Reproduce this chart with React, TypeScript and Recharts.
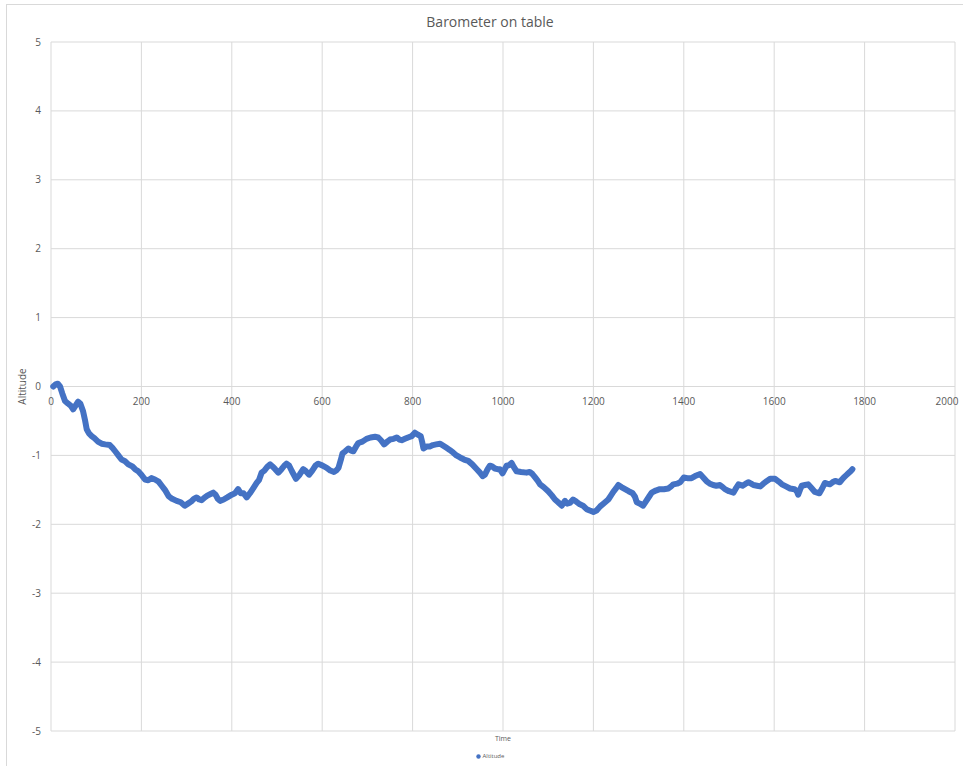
import { LineChart, Line, XAxis, YAxis, CartesianGrid, Legend } from "recharts";

// sample time (s) and barometric altitude readings
const times = [
  5, 10, 15, 20, 25, 31, 38, 44, 49, 54, 60, 65, 71, 75, 79, 84, 90, 96, 104, 112,
  120, 130, 136, 142, 149, 156, 163, 171, 180, 186, 193, 200, 208, 215, 222, 230, 238, 245, 252, 260,
  268, 278, 287, 296, 303, 310, 316, 322, 328, 333, 340, 347, 353, 359, 364, 369, 374, 382, 390, 400,
  407, 414, 420, 426, 433, 440, 448, 455, 460, 466, 472, 478, 485, 490, 496, 503, 510, 516, 521, 527,
  533, 542, 550, 558, 564, 571, 578, 585, 591, 598, 604, 610, 618, 626, 631, 636, 641, 645, 651, 658,
  664, 669, 675, 680, 689, 698, 707, 717, 724, 730, 737, 744, 750, 758, 765, 771, 776, 783, 790, 798,
  805, 812, 818, 821, 824, 831, 838, 845, 852, 861, 868, 875, 882, 890, 897, 905, 914, 923, 932, 942,
  949, 955, 960, 966, 971, 976, 982, 988, 993, 999, 1004, 1008, 1014, 1019, 1024, 1030, 1040, 1052, 1059, 1065,
  1071, 1077, 1082, 1090, 1100, 1108, 1115, 1122, 1130, 1137, 1142, 1148, 1155, 1162, 1170, 1177, 1185, 1192, 1200, 1207,
  1215, 1224, 1233, 1239, 1244, 1250, 1255, 1262, 1270, 1278, 1287, 1292, 1296, 1303, 1310, 1317, 1323, 1329, 1338, 1347,
  1356, 1366, 1372, 1377, 1385, 1392, 1400, 1408, 1417, 1425, 1432, 1436, 1443, 1451, 1458, 1465, 1472, 1480, 1486, 1491,
  1500, 1510, 1516, 1521, 1530, 1537, 1543, 1549, 1554, 1562, 1569, 1576, 1584, 1591, 1602, 1610, 1617, 1626, 1635, 1645,
  1650, 1653, 1657, 1661, 1668, 1675, 1682, 1690, 1700, 1706, 1712, 1717, 1723, 1729, 1735, 1740, 1745, 1750, 1754, 1759,
  1764, 1769, 1773,
];

const altitude = [
  0.0, 0.03, 0.04, 0.0, -0.1, -0.21, -0.25, -0.28, -0.33, -0.28, -0.22, -0.25, -0.36, -0.48, -0.62, -0.68, -0.72, -0.75, -0.8, -0.83,
  -0.84, -0.85, -0.89, -0.94, -1.0, -1.06, -1.08, -1.13, -1.16, -1.2, -1.23, -1.28, -1.35, -1.36, -1.33, -1.35, -1.38, -1.44, -1.5, -1.59,
  -1.63, -1.66, -1.68, -1.73, -1.7, -1.67, -1.63, -1.61, -1.64, -1.65, -1.61, -1.58, -1.56, -1.54, -1.57, -1.63, -1.66, -1.64, -1.61, -1.57,
  -1.55, -1.49, -1.55, -1.55, -1.61, -1.55, -1.47, -1.4, -1.36, -1.25, -1.22, -1.17, -1.13, -1.16, -1.2, -1.25, -1.2, -1.15, -1.12, -1.15,
  -1.23, -1.34, -1.28, -1.2, -1.23, -1.28, -1.22, -1.15, -1.12, -1.14, -1.16, -1.18, -1.22, -1.24, -1.22, -1.18, -1.07, -0.97, -0.94, -0.9,
  -0.93, -0.94, -0.87, -0.82, -0.8, -0.76, -0.74, -0.73, -0.74, -0.78, -0.84, -0.8, -0.77, -0.76, -0.74, -0.77, -0.78, -0.76, -0.74, -0.72,
  -0.67, -0.7, -0.72, -0.8, -0.9, -0.87, -0.87, -0.85, -0.84, -0.83, -0.86, -0.89, -0.92, -0.96, -1.0, -1.03, -1.06, -1.08, -1.13, -1.2,
  -1.25, -1.3, -1.28, -1.2, -1.15, -1.16, -1.19, -1.2, -1.2, -1.26, -1.2, -1.15, -1.14, -1.11, -1.17, -1.23, -1.24, -1.25, -1.24, -1.27,
  -1.32, -1.37, -1.42, -1.46, -1.52, -1.58, -1.64, -1.68, -1.73, -1.66, -1.7, -1.69, -1.64, -1.67, -1.71, -1.73, -1.78, -1.8, -1.82, -1.8,
  -1.74, -1.69, -1.64, -1.58, -1.53, -1.48, -1.43, -1.46, -1.49, -1.52, -1.55, -1.6, -1.68, -1.7, -1.73, -1.66, -1.6, -1.54, -1.51, -1.49,
  -1.49, -1.48, -1.45, -1.42, -1.41, -1.39, -1.32, -1.33, -1.33, -1.3, -1.28, -1.27, -1.32, -1.38, -1.41, -1.43, -1.44, -1.43, -1.46, -1.49,
  -1.52, -1.54, -1.47, -1.42, -1.44, -1.41, -1.39, -1.41, -1.43, -1.44, -1.45, -1.41, -1.37, -1.34, -1.34, -1.38, -1.42, -1.45, -1.48, -1.49,
  -1.52, -1.57, -1.5, -1.44, -1.43, -1.42, -1.47, -1.53, -1.55, -1.48, -1.4, -1.41, -1.42, -1.39, -1.37, -1.38, -1.39, -1.35, -1.32, -1.29,
  -1.26, -1.23, -1.2,
];

const xTicks = [0, 200, 400, 600, 800, 1000, 1200, 1400, 1600, 1800, 2000];
const yTicks = [-5, -4, -3, -2, -1, 0, 1, 2, 3, 4, 5];

const data = times.map((t, i) => ({ time: t, altitude: altitude[i] }));

const W = 963;
const H = 766;
const PLOT_TOP = 42;
const PLOT_BOTTOM = 731;
const AXIS_H = 14;
const TEXT = "#595959";
const GRID = "#d9d9d9";
const BLUE = "#4472C4";
const FONT = "'Open Sans', sans-serif";

// Category labels sit on the zero line, not along the bottom edge
function ZeroLineTick({ x, y, payload }: any) {
  const shift = (PLOT_BOTTOM - PLOT_TOP) / 2;
  return (
    <text x={x} y={y - shift + 18} textAnchor="middle" fontSize={10} fill={TEXT} fontFamily={FONT}>
      {payload.value}
    </text>
  );
}

function LegendItem() {
  return (
    <div style={{ display: "flex", justifyContent: "center", alignItems: "center", gap: 2, fontSize: 6, color: TEXT, fontFamily: FONT }}>
      <svg width={5} height={5}>
        <circle cx={2.5} cy={2.5} r={2.2} fill={BLUE} />
      </svg>
      <span>Altitude</span>
    </div>
  );
}

export default function App() {
  return (
    <div style={{ position: "absolute", left: 0, top: 0, width: W, height: H, overflow: "hidden", background: "#fff", fontFamily: FONT }}>
      <div style={{ position: "absolute", left: 6, top: 4, width: 990, height: 800, border: `1px solid ${GRID}` }} />
      <div style={{ position: "absolute", left: 0, top: 12, width: 980, textAlign: "center", fontSize: 14, lineHeight: "20px", color: TEXT }}>
        Barometer on table
      </div>
      <div style={{ position: "absolute", left: 0, top: 0 }}>
        <LineChart
          width={W}
          height={H}
          data={data}
          margin={{ top: PLOT_TOP, right: 8, bottom: H - PLOT_BOTTOM - AXIS_H, left: 0 }}
        >
          <CartesianGrid stroke={GRID} strokeWidth={1} />
          <XAxis
            dataKey="time"
            type="number"
            domain={[0, 2000]}
            ticks={xTicks}
            height={AXIS_H}
            axisLine={false}
            tickLine={false}
            tickSize={0}
            tickMargin={0}
            tick={<ZeroLineTick />}
            label={{ value: "Time", position: "insideBottom", offset: 4, fontSize: 7, fill: TEXT, fontFamily: FONT }}
          />
          <YAxis
            type="number"
            domain={[-5, 5]}
            ticks={yTicks}
            width={51}
            axisLine={false}
            tickLine={false}
            tickSize={0}
            tickMargin={10}
            tick={{ fontSize: 10, fill: TEXT, fontFamily: FONT }}
            label={{ value: "Altitude", angle: -90, position: "insideLeft", offset: 22, fontSize: 10, fill: TEXT, fontFamily: FONT, style: { textAnchor: "middle" } }}
          />
          <Legend
            verticalAlign="middle"
            align="center"
            layout="horizontal"
            wrapperStyle={{ top: 752, left: 0, width: 980 }}
            content={<LegendItem />}
          />
          <Line
            type="linear"
            dataKey="altitude"
            name="Altitude"
            stroke={BLUE}
            strokeWidth={6}
            strokeLinejoin="round"
            strokeLinecap="round"
            dot={false}
            isAnimationActive={false}
          />
        </LineChart>
      </div>
    </div>
  );
}
